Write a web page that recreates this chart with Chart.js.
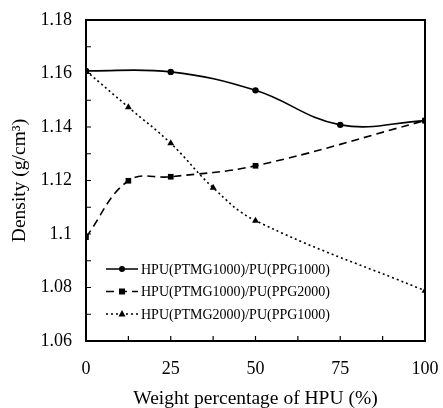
<!DOCTYPE html>
<html>
<head>
<meta charset="utf-8">
<script src="https://cdn.jsdelivr.net/npm/chart.js@4/dist/chart.umd.min.js"></script>
<style>
  html, body { margin: 0; background: #fff; }
  #wrap { width: 443px; height: 408px; }
</style>
</head>
<body>
<div id="wrap"><canvas id="densityChart"></canvas></div>
<script>
// data
const seriesNames = [
    'HPU(PTMG1000)/PU(PPG1000)',
    'HPU(PTMG1000)/PU(PPG2000)',
    'HPU(PTMG2000)/PU(PPG1000)'
];
const hpuA = [0, 25, 50, 75, 100];
const densityA = [1.161, 1.1606, 1.1537, 1.1408, 1.1424];
const hpuB = [0, 12.5, 25, 50, 100];
const densityB = [1.0988, 1.1199, 1.1214, 1.1255, 1.1424];
const hpuC = [0, 12.5, 25, 37.5, 50, 100];
const densityC = [1.161, 1.1474, 1.1339, 1.1173, 1.105, 1.0788];
const xTicks = [0, 25, 50, 75, 100];
const yTicks = [1.06, 1.08, 1.1, 1.12, 1.14, 1.16, 1.18];

const serif = "'Liberation Serif', 'Times New Roman', serif";

function toPoints(xs, ys) {
    return xs.map((v, i) => ({ x: v, y: ys[i] }));
}

function makeSet(label, xs, ys, style, dash) {
    return {
        label: label,
        data: toPoints(xs, ys),
        showLine: true,
        borderColor: '#000',
        backgroundColor: '#000',
        borderWidth: 1.6,
        borderDash: dash,
        tension: 0.4,
        pointStyle: style,
        pointRadius: style === 'circle' ? 3.2 : 4,
        pointBorderWidth: 0
    };
}

function drawMarker(ctx, style, cx, cy) {
    ctx.beginPath();
    if (style === 'circle') {
        ctx.arc(cx, cy, 3, 0, Math.PI * 2);
    } else if (style === 'rect') {
        ctx.rect(cx - 3, cy - 3, 6, 6);
    } else {
        ctx.moveTo(cx, cy - 4);
        ctx.lineTo(cx + 3.5, cy + 2.5);
        ctx.lineTo(cx - 3.5, cy + 2.5);
        ctx.closePath();
    }
    ctx.fill();
}

// box frame, inward ticks and the legend inside the plot
const frameAndLegend = {
    id: 'frameAndLegend',
    afterDraw(chart) {
        const ctx = chart.ctx;
        const a = chart.chartArea;
        const x = chart.scales.x;
        const y = chart.scales.y;
        ctx.save();
        ctx.strokeStyle = '#000';
        ctx.lineWidth = 2;
        ctx.strokeRect(a.left, a.top, a.right - a.left, a.bottom - a.top);

        ctx.lineWidth = 1.2;
        ctx.beginPath();
        for (let i = 0; i <= 8; i++) {
            const px = x.getPixelForValue(i * 12.5);
            ctx.moveTo(px, a.bottom);
            ctx.lineTo(px, a.bottom - 5);
        }
        for (let i = 0; i <= 12; i++) {
            const py = y.getPixelForValue(1.06 + i * 0.01);
            ctx.moveTo(a.left, py);
            ctx.lineTo(a.left + 5, py);
        }
        ctx.stroke();

        ctx.font = '14px ' + serif;
        ctx.textBaseline = 'middle';
        ctx.fillStyle = '#000';
        chart.data.datasets.forEach((ds, i) => {
            const ly = a.top + 249 + i * 22.5;
            const x0 = a.left + 20;
            ctx.lineWidth = 1.5;
            ctx.setLineDash(ds.borderDash || []);
            ctx.beginPath();
            ctx.moveTo(x0, ly);
            ctx.lineTo(x0 + 32, ly);
            ctx.stroke();
            ctx.setLineDash([]);
            drawMarker(ctx, ds.pointStyle, x0 + 16, ly);
            ctx.fillText(ds.label, x0 + 35, ly + 1);
        });
        ctx.restore();
    }
};

const ctx = document.getElementById('densityChart').getContext('2d');
const densityChart = new Chart(ctx, {
    type: 'scatter',
    data: {
        datasets: [
            makeSet(seriesNames[0], hpuA, densityA, 'circle', []),
            makeSet(seriesNames[1], hpuB, densityB, 'rect', [8, 5]),
            makeSet(seriesNames[2], hpuC, densityC, 'triangle', [2, 3])
        ]
    },
    options: {
        responsive: true,
        maintainAspectRatio: false,
        animation: false,
        layout: { padding: { top: 20, right: 18, left: 0, bottom: 0 } },
        plugins: {
            legend: { display: false },
            tooltip: { enabled: false }
        },
        scales: {
            x: {
                type: 'linear',
                min: 0,
                max: 100,
                afterBuildTicks: s => { s.ticks = xTicks.map(v => ({ value: v })); },
                afterFit: s => {
                    s.height = 67;
                    s.paddingLeft = 0;
                    s.paddingRight = 0;
                },
                grid: { display: false, drawTicks: false },
                border: { display: false },
                ticks: {
                    padding: 17,
                    color: '#000',
                    font: { family: serif, size: 18 }
                },
                title: {
                    display: true,
                    text: 'Weight percentage of HPU (%)',
                    color: '#000',
                    font: { family: serif, size: 19.5 },
                    padding: { top: 0, bottom: -3 }
                }
            },
            y: {
                min: 1.06,
                max: 1.18,
                afterBuildTicks: s => { s.ticks = yTicks.map(v => ({ value: v })); },
                afterFit: s => {
                    s.width = 86;
                    s.paddingTop = 0;
                    s.paddingBottom = 0;
                },
                grid: { display: false, drawTicks: false },
                border: { display: false },
                ticks: {
                    padding: 14,
                    color: '#000',
                    font: { family: serif, size: 18 },
                    callback: v => String(Math.round(v * 100) / 100)
                },
                title: {
                    display: true,
                    text: 'Density (g/cm³)',
                    color: '#000',
                    font: { family: serif, size: 19.5 },
                    padding: { top: 8, bottom: 0 }
                }
            }
        }
    },
    plugins: [frameAndLegend]
});
</script>
</body>
</html>
